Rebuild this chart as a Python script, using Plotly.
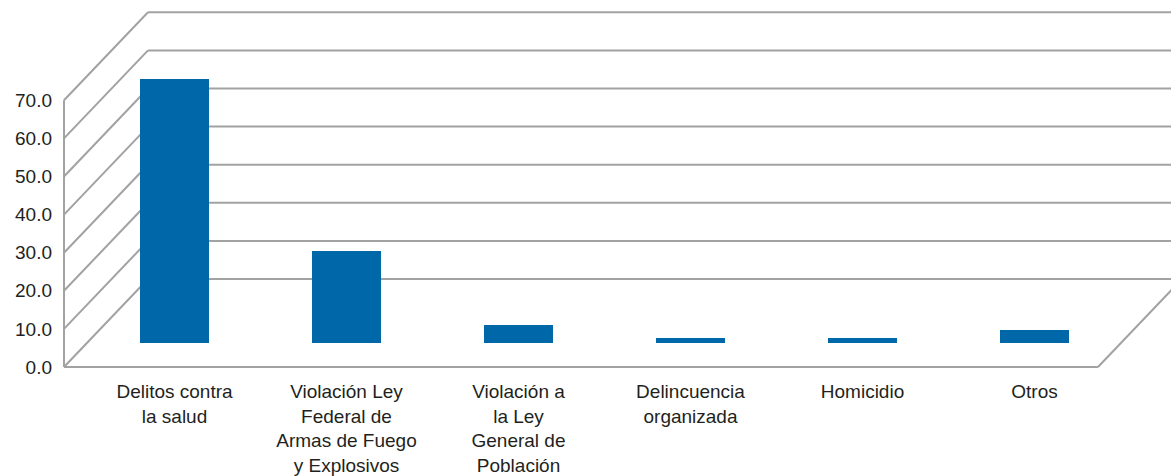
import plotly.graph_objects as go

categories = [
    "Delitos contra<br>la salud",
    "Violación Ley<br>Federal de<br>Armas de Fuego<br>y Explosivos",
    "Violación a<br>la Ley<br>General de<br>Población",
    "Delincuencia<br>organizada",
    "Homicidio",
    "Otros",
]
values = [69.2, 24.1, 4.6, 1.2, 1.2, 3.3]
y_ticks = [0, 10, 20, 30, 40, 50, 60, 70]

W, H = 1171, 476
# pixel geometry of the pseudo-3D frame
PLOT_L, PLOT_R, PLOT_T, PLOT_B = 58, 1171, 5, 372
X0_PX, X_STEP = 174.5, 172.0        # pixel of first category centre, category spacing
K = 3.81                            # pixels per value unit
FRONT_ZERO = 367.0                  # pixel y of value 0 on front plane
BAR_ZERO = 342.7                    # pixel y of value 0 at bar depth
DEPTH_DX, DEPTH_DY = 84.0, 88.0     # px offset front -> back

def px_to_x(px):
    return (px - X0_PX) / X_STEP

xr = [px_to_x(PLOT_L), px_to_x(PLOT_R)]
yr = [(FRONT_ZERO - PLOT_B) / K, (FRONT_ZERO - PLOT_T) / K]
y2r = [(BAR_ZERO - PLOT_B) / K, (BAR_ZERO - PLOT_T) / K]

dx = DEPTH_DX / X_STEP
dy = DEPTH_DY / K
xl = px_to_x(64)
xrgt = px_to_x(1098)
xfar = px_to_x(1300)

line = dict(color="#a2a2a2", width=2)
shapes = []
# front-left vertical edge
shapes.append(dict(type="line", xref="x", yref="y", x0=xl, x1=xl, y0=0, y1=max(y_ticks), line=line, layer="below"))
for v in y_ticks:
    # left wall diagonals
    shapes.append(dict(type="line", xref="x", yref="y", x0=xl, y0=v, x1=xl + dx, y1=v + dy, line=line, layer="below"))
    # back wall gridlines
    shapes.append(dict(type="line", xref="x", yref="y", x0=xl + dx, y0=v + dy, x1=xfar, y1=v + dy, line=line, layer="below"))
# floor front edge and right edge
shapes.append(dict(type="line", xref="x", yref="y", x0=xl, y0=0, x1=xrgt, y1=0, line=line, layer="below"))
shapes.append(dict(type="line", xref="x", yref="y", x0=xrgt, y0=0, x1=xrgt + dx, y1=dy, line=line, layer="below"))

fig = go.Figure()
# invisible trace to hold the front y axis
fig.add_trace(go.Scatter(x=[xl], y=[0], mode="markers", marker=dict(opacity=0), showlegend=False, hoverinfo="skip", yaxis="y"))
fig.add_trace(go.Bar(
    x=list(range(len(values))), y=values, width=0.401,
    marker=dict(color="#0067a9", line=dict(width=0)),
    yaxis="y2", showlegend=False,
))

font_color = "#231f20"
fig.update_layout(
    width=W, height=H,
    margin=dict(l=PLOT_L, r=W - PLOT_R, t=PLOT_T, b=H - PLOT_B, pad=0, autoexpand=False),
    paper_bgcolor="white", plot_bgcolor="white",
    shapes=shapes,
    xaxis=dict(
        range=xr, showgrid=False, zeroline=False, showline=False, automargin=False,
        tickmode="array", tickvals=list(range(len(categories))), ticktext=categories,
        tickfont=dict(family="Liberation Sans, Arial, sans-serif", size=19, color=font_color),
        ticks="", ticklabelstandoff=6,
    ),
    yaxis=dict(
        range=yr, showgrid=False, zeroline=False, showline=False, automargin=False,
        tickmode="array", tickvals=y_ticks, ticktext=[f"{v:.1f}" for v in y_ticks],
        tickfont=dict(family="Liberation Sans, Arial, sans-serif", size=19, color=font_color),
        ticks="", ticklabelstandoff=5,
    ),
    yaxis2=dict(range=y2r, overlaying="y", visible=False),
    bargap=0,
)

fig.write_html(
    "out.html",
    config={"displayModeBar": False},
    post_script="document.body.style.margin='0';document.body.style.overflow='hidden';",
)
